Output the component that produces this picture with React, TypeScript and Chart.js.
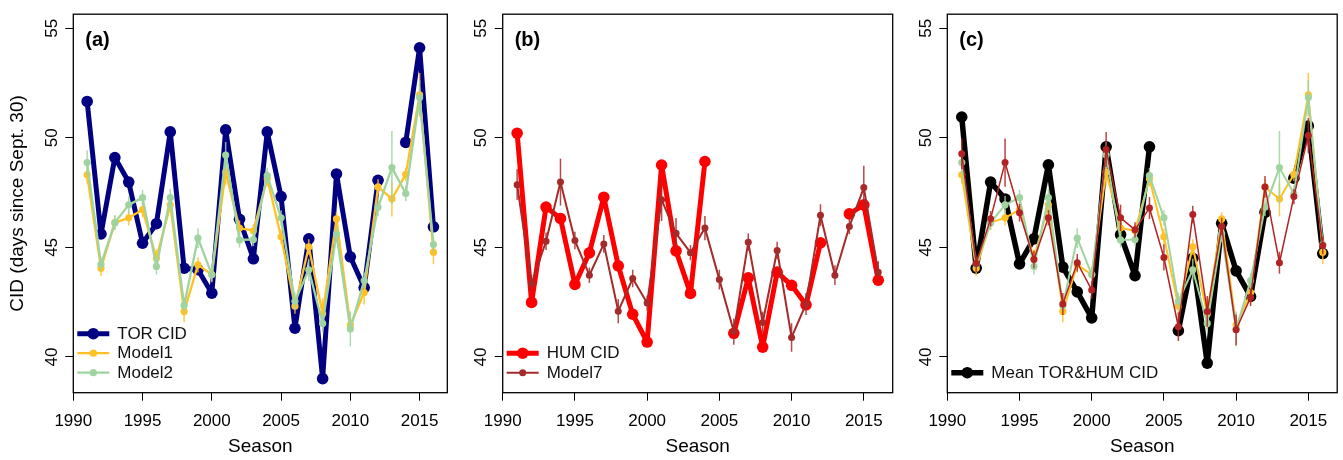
import React, { useEffect, useRef } from "react";
import { Chart, registerables } from "chart.js";

Chart.register(...registerables);

const FONT = "'Liberation Sans', Arial, Helvetica, sans-serif";

const years = [1991, 1992, 1993, 1994, 1995, 1996, 1997, 1998, 1999, 2000, 2001, 2002, 2003, 2004, 2005, 2006, 2007, 2008, 2009, 2010, 2011, 2012, 2013, 2014, 2015, 2016];
const xTicks = [1990, 1995, 2000, 2005, 2010, 2015];
const yTicks = [40, 45, 50, 55];

const torCID = [51.66, 45.61, 49.1, 47.98, 45.19, 46.08, 50.27, 44.05, 43.98, 42.91, 50.36, 46.28, 44.48, 50.27, 47.32, 41.31, 45.39, 39.01, 48.35, 44.57, 43.16, 48.06, null, 49.79, 54.11, 45.94];
const model1 = [48.31, 44.05, 46.13, 46.35, 46.72, 44.5, 46.94, 42.08, 44.2, 43.76, 48.43, 45.88, 45.76, 48.13, 45.49, 42.32, 45.02, 41.97, 46.3, 41.46, 42.94, 47.76, 47.21, 48.33, 51.96, 44.78];
const model1Err = [0.4, 0.35, 0.3, 0.35, 0.35, 0.4, 0.35, 0.5, 0.35, 0.35, 0.6, 0.35, 0.3, 0.35, 0.35, 0.35, 0.35, 0.7, 0.3, 0.35, 0.55, 0.35, 0.8, 0.3, 1.0, 0.55];
const model2 = [48.87, 44.23, 46.13, 46.94, 47.27, 44.13, 47.27, 42.35, 45.42, 43.76, 49.21, 45.34, 45.36, 48.28, 46.35, 42.54, 43.98, 41.53, 45.61, 41.28, 43.49, 46.83, 48.64, 47.46, 51.84, 45.13];
const model2Err = [0.56, 0.3, 0.35, 0.4, 0.35, 0.37, 0.4, 0.35, 0.45, 0.3, 0.6, 0.35, 0.3, 0.35, 0.35, 0.4, 0.5, 0.4, 0.35, 0.8, 0.35, 0.4, 1.67, 0.35, 0.8, 0.35];

const humCID = [50.21, 42.49, 46.84, 46.32, 43.31, 44.75, 47.29, 44.16, 41.95, 40.68, 48.76, 44.84, 42.9, 48.92, null, 41.08, 43.61, 40.45, 43.87, 43.27, 42.38, 45.21, null, 46.53, 46.94, 43.5];
const model7 = [47.86, 43.34, 45.28, 47.98, 45.31, 43.73, 45.16, 42.09, 43.58, 42.46, 47.17, 45.64, 44.76, 45.88, 43.53, 41.16, 45.24, 41.57, 44.86, 40.89, 42.42, 46.47, 43.73, 45.95, 47.73, 43.87];
const model7Err = [0.7, 0.4, 0.4, 1.07, 0.4, 0.35, 0.4, 0.55, 0.4, 0.35, 0.97, 0.7, 0.35, 0.55, 0.45, 0.6, 0.4, 0.5, 0.4, 0.65, 0.5, 0.5, 0.45, 0.35, 1.0, 0.5];

const meanCID = [50.95, 44.05, 47.98, 47.21, 44.25, 45.39, 48.77, 44.1, 42.97, 41.78, 49.59, 45.58, 43.71, 49.59, null, 41.2, 44.5, 39.72, 46.1, 43.93, 42.76, 46.6, null, 48.16, 50.54, 44.72];
const model7Mean = [49.27, 44.27, 46.31, 48.87, 46.58, 44.45, 46.35, 42.42, 44.3, 43.06, 49.47, 46.35, 45.8, 46.8, 44.54, 41.38, 46.5, 42.08, 45.95, 41.24, 42.72, 47.76, 44.3, 47.32, 50.11, 45.09];
const model7MeanErr = [0.7, 0.4, 0.35, 1.1, 0.4, 0.4, 0.35, 0.5, 0.4, 0.4, 0.8, 0.6, 0.35, 0.5, 0.6, 0.65, 0.4, 0.7, 0.4, 0.7, 0.4, 0.5, 0.5, 0.35, 0.8, 0.4];

const NAVY = "#000080";
const ORANGE = "#FFC125";
const GREEN = "#9FD49F";
const BROWN = "#A52A2A";
const FIREBRICK = "#B22222";
const RED = "#FF0000";
const BLACK = "#000000";

type Series = {
  label: string;
  values: (number | null)[];
  err?: number[];
  color: string;
  width: number;
  radius: number;
  order: number;
  legend: boolean;
};

type Panel = {
  letter: string;
  canvasLeft: number;
  canvasWidth: number;
  leftW: number;
  rightPad: number;
  yTitle?: string;
  series: Series[];
};

const panels: Panel[] = [
  {
    letter: "(a)",
    canvasLeft: 0,
    canvasWidth: 460,
    leftW: 73.3,
    rightPad: 12.7,
    yTitle: "CID (days since Sept. 30)",
    series: [
      { label: "TOR CID", values: torCID, color: NAVY, width: 5, radius: 5.8, order: 3, legend: true },
      { label: "Model1", values: model1, err: model1Err, color: ORANGE, width: 2.3, radius: 3.6, order: 2, legend: true },
      { label: "Model2", values: model2, err: model2Err, color: GREEN, width: 2.3, radius: 3.6, order: 1, legend: true },
    ],
  },
  {
    letter: "(b)",
    canvasLeft: 460,
    canvasWidth: 445,
    leftW: 42.7,
    rightPad: 12.3,
    series: [
      { label: "HUM CID", values: humCID, color: RED, width: 5, radius: 5.8, order: 2, legend: true },
      { label: "Model7", values: model7, err: model7Err, color: BROWN, width: 2, radius: 3.5, order: 1, legend: true },
    ],
  },
  {
    letter: "(c)",
    canvasLeft: 905,
    canvasWidth: 438,
    leftW: 42.3,
    rightPad: 5.7,
    series: [
      { label: "Mean TOR&HUM CID", values: meanCID, color: BLACK, width: 5.5, radius: 5.8, order: 4, legend: true },
      { label: "Model1", values: model1, err: model1Err, color: ORANGE, width: 2, radius: 3.6, order: 3, legend: false },
      { label: "Model2", values: model2, err: model2Err, color: GREEN, width: 2, radius: 3.6, order: 2, legend: false },
      { label: "Model7", values: model7Mean, err: model7MeanErr, color: FIREBRICK, width: 1.5, radius: 3.5, order: 1, legend: false },
    ],
  },
];

const errorBarPlugin = {
  id: "errorBars",
  beforeDatasetDraw(chart: any, args: any) {
    const ds = chart.data.datasets[args.index];
    if (!ds.errorBars) return;
    const { ctx } = chart;
    const xs = chart.scales.x;
    const ys = chart.scales.y;
    ctx.save();
    ctx.strokeStyle = ds.borderColor;
    ctx.globalAlpha = 0.85;
    ctx.lineWidth = 1.5;
    ds.data.forEach((p: any, i: number) => {
      if (p.y == null) return;
      const e = ds.errorBars[i];
      const px = xs.getPixelForValue(p.x);
      ctx.beginPath();
      ctx.moveTo(px, ys.getPixelForValue(p.y - e));
      ctx.lineTo(px, ys.getPixelForValue(p.y + e));
      ctx.stroke();
    });
    ctx.restore();
  },
};

function makeDecorPlugin(panel: Panel) {
  return {
    id: "decor",
    afterDraw(chart: any) {
      const { ctx, chartArea } = chart;
      const { left, top, right, bottom } = chartArea;
      ctx.save();
      ctx.strokeStyle = "#000";
      ctx.lineWidth = 1.3;
      ctx.strokeRect(left, top, right - left, bottom - top);

      ctx.fillStyle = "#000";
      ctx.font = `bold 20px ${FONT}`;
      ctx.textAlign = "left";
      ctx.textBaseline = "middle";
      ctx.fillText(panel.letter, left + 12, top + 26.6);

      const items = panel.series.filter((s) => s.legend);
      const n = items.length;
      items.forEach((s, i) => {
        const y = bottom - 20 - (n - 1 - i) * 19.5;
        const x0 = left + 4;
        const x1 = left + 36;
        ctx.strokeStyle = s.color;
        ctx.lineWidth = s.width;
        ctx.lineCap = "butt";
        ctx.beginPath();
        ctx.moveTo(x0, y);
        ctx.lineTo(x1, y);
        ctx.stroke();
        ctx.fillStyle = s.color;
        ctx.beginPath();
        ctx.arc((x0 + x1) / 2, y, s.radius, 0, Math.PI * 2);
        ctx.fill();
        ctx.fillStyle = "#111";
        ctx.font = `17px ${FONT}`;
        ctx.textAlign = "left";
        ctx.textBaseline = "middle";
        ctx.fillText(s.label, left + 44, y + 0.5);
      });
      ctx.restore();
    },
  };
}

function PanelChart({ panel }: { panel: Panel }) {
  const ref = useRef<HTMLCanvasElement | null>(null);
  useEffect(() => {
    if (!ref.current) return;
    const datasets = panel.series.map((s) => ({
      label: s.label,
      data: years.map((yr, i) => ({ x: yr, y: s.values[i] })),
      errorBars: s.err,
      borderColor: s.color,
      backgroundColor: s.color,
      borderWidth: s.width,
      pointRadius: s.radius,
      pointHoverRadius: s.radius,
      pointBorderWidth: 0,
      pointBackgroundColor: s.color,
      borderJoinStyle: "round",
      borderCapStyle: "round",
      tension: 0,
      spanGaps: false,
      order: s.order,
    }));
    const chart = new Chart(ref.current, {
      type: "line",
      data: { datasets } as any,
      plugins: [errorBarPlugin, makeDecorPlugin(panel)],
      options: {
        animation: false,
        responsive: false,
        maintainAspectRatio: false,
        devicePixelRatio: 1,
        layout: { padding: { left: 0, right: panel.rightPad, top: 4.7, bottom: 0 } },
        plugins: { legend: { display: false }, tooltip: { enabled: false } },
        scales: {
          x: {
            type: "linear",
            min: 1990,
            max: 2017,
            afterBuildTicks: (s: any) => {
              s.ticks = xTicks.map((v) => ({ value: v }));
            },
            afterFit: (s: any) => {
              s.height = 67.3;
            },
            grid: { drawOnChartArea: false, drawTicks: true, tickLength: 8, color: "#000", lineWidth: 1 },
            border: { display: false },
            ticks: {
              color: "#000",
              font: { family: FONT, size: 17 },
              padding: 10,
              autoSkip: false,
              maxRotation: 0,
              minRotation: 0,
              callback: (v: any) => String(v),
            },
            title: {
              display: true,
              text: "Season",
              color: "#000",
              font: { family: FONT, size: 19 },
              padding: { top: 0, bottom: 2 },
            },
          },
          y: {
            type: "linear",
            min: 38.37,
            max: 55.64,
            afterBuildTicks: (s: any) => {
              s.ticks = yTicks.map((v) => ({ value: v }));
            },
            afterFit: (s: any) => {
              s.width = panel.leftW;
            },
            grid: { drawOnChartArea: false, drawTicks: true, tickLength: 8, color: "#000", lineWidth: 1 },
            border: { display: false },
            ticks: {
              color: "#000",
              font: { family: FONT, size: 17 },
              padding: 4,
              minRotation: 90,
              maxRotation: 90,
              crossAlign: "center",
              autoSkip: false,
              callback: (v: any) => String(v),
            },
            title: {
              display: !!panel.yTitle,
              text: panel.yTitle || "",
              color: "#000",
              font: { family: FONT, size: 19 },
              padding: { top: 6, bottom: 0 },
            },
          },
        },
      } as any,
    });
    return () => chart.destroy();
  }, [panel]);
  return (
    <canvas
      ref={ref}
      width={panel.canvasWidth}
      height={460}
      style={{ position: "absolute", left: panel.canvasLeft, top: 0, width: panel.canvasWidth, height: 460 }}
    />
  );
}

export default function App() {
  return (
    <div style={{ position: "absolute", left: 0, top: 0, width: 1343, height: 460, background: "#fff", overflow: "hidden" }}>
      {panels.map((p) => (
        <PanelChart key={p.letter} panel={p} />
      ))}
    </div>
  );
}
